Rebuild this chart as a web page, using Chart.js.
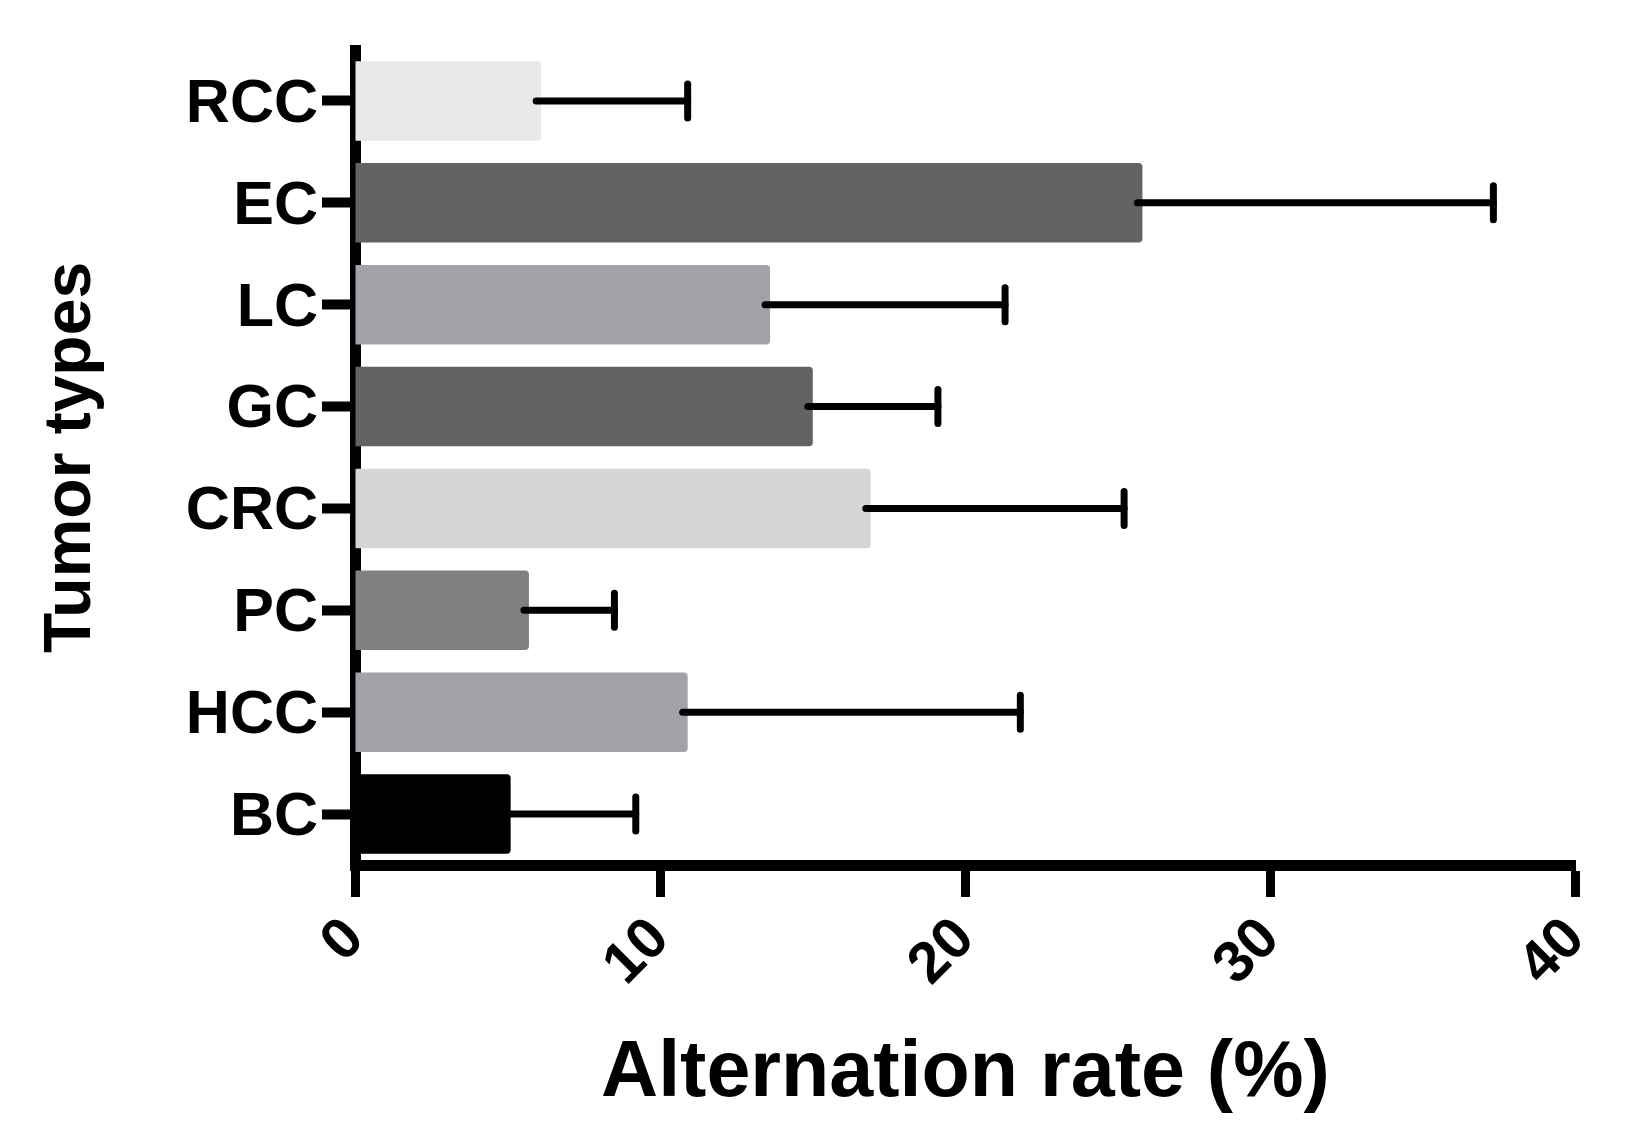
<!DOCTYPE html>
<html>
<head>
<meta charset="utf-8">
<script src="https://cdn.jsdelivr.net/npm/chart.js@4/dist/chart.umd.min.js"></script>
<style>
  html, body { margin: 0; padding: 0; background: #fff; }
  #wrap { width: 1633px; height: 1139px; }
</style>
</head>
<body>
<div id="wrap"><canvas id="mycanvas" width="1633" height="1139"></canvas></div>
<script>
// tumor types, top to bottom
var tumorTypes = ["RCC", "EC", "LC", "GC", "CRC", "PC", "HCC", "BC"];
var meanRate = [6.1, 25.8, 13.6, 15.0, 16.9, 5.7, 10.9, 5.1];
var sdRate = [4.8, 11.5, 7.7, 4.1, 8.3, 2.8, 10.9, 4.1];
var barColors = ["#e8e8e8", "#636363", "#a3a2a6", "#636363", "#d6d6d6", "#808080", "#a3a2a6", "#000000"];
var xTicks = [0, 10, 20, 30, 40];

var font = "'Liberation Sans', Arial, Helvetica, sans-serif";

// error bars (mean + SD) drawn on top of the bars
var errorBars = {
    id: "errorBars",
    afterDatasetsDraw: function(chart)
    {
        var ctx = chart.ctx;
        var xs = chart.scales.x;
        var meta = chart.getDatasetMeta(0);
        ctx.save();
        ctx.strokeStyle = "#000";
        ctx.lineWidth = 7;
        ctx.lineCap = "round";
        for (var i = 0; i < meanRate.length; i++)
        {
            var y = meta.data[i].y;
            var x0 = xs.getPixelForValue(meanRate[i]);
            var x1 = xs.getPixelForValue(meanRate[i] + sdRate[i]);
            ctx.beginPath();
            ctx.moveTo(x0 - 5, y);
            ctx.lineTo(x1, y);
            ctx.stroke();
            ctx.beginPath();
            ctx.moveTo(x1, y - 17);
            ctx.lineTo(x1, y + 17);
            ctx.stroke();
        }
        ctx.restore();
    }
};

var ctx = document.getElementById("mycanvas");

var chart = new Chart(ctx,
{
    type: "bar",
    data:
    {
        labels: tumorTypes,
        datasets:
        [{
            label: "Alternation rate",
            data: meanRate,
            backgroundColor: barColors,
            borderWidth: 0,
            borderRadius: 4,
            borderSkipped: "start",
            barPercentage: 0.78,
            categoryPercentage: 1.0
        }]
    },
    options:
    {
        indexAxis: "y",
        responsive: false,
        animation: false,
        devicePixelRatio: 1,
        layout: { padding: { left: 32, right: 55, top: 50, bottom: 17 } },
        plugins:
        {
            legend: { display: false },
            tooltip: { enabled: false }
        },
        scales:
        {
            x:
            {
                type: "linear",
                min: 0,
                max: 40,
                afterBuildTicks: function(scale)
                {
                    scale.ticks = xTicks.map(function(v) { return { value: v }; });
                },
                afterFit: function(scale) { scale.height = 257; },
                border: { display: true, color: "#000", width: 11 },
                grid:
                {
                    drawOnChartArea: false,
                    drawTicks: true,
                    tickLength: 32,
                    tickWidth: 9,
                    tickColor: "#000"
                },
                ticks:
                {
                    autoSkip: false,
                    minRotation: 45,
                    maxRotation: 45,
                    padding: 8,
                    color: "#000",
                    font: { family: font, size: 58, weight: "bold" }
                },
                title:
                {
                    display: true,
                    text: "Alternation rate (%)",
                    color: "#000",
                    padding: 0,
                    font: { family: font, size: 79, weight: "bold" }
                }
            },
            y:
            {
                afterFit: function(scale) { scale.width = 323; },
                border: { display: true, color: "#000", width: 11 },
                grid:
                {
                    offset: false,
                    drawOnChartArea: false,
                    drawTicks: true,
                    tickLength: 33,
                    tickWidth: 10,
                    tickColor: "#000"
                },
                ticks:
                {
                    padding: 4,
                    labelOffset: 4,
                    color: "#000",
                    font: { family: font, size: 61, weight: "bold" }
                },
                title:
                {
                    display: true,
                    text: "Tumor types",
                    color: "#000",
                    padding: 0,
                    font: { family: font, size: 66, weight: "bold" }
                }
            }
        }
    },
    plugins: [errorBars]
});
</script>
</body>
</html>
